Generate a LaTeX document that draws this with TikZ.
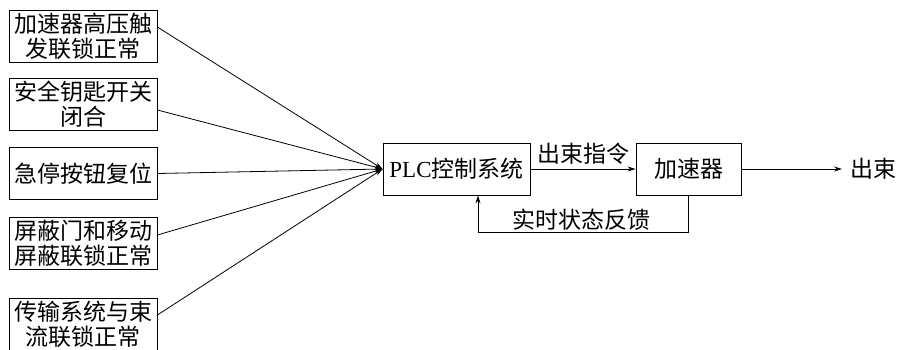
\documentclass[tikz,border=0pt]{standalone}
\usepackage{fontspec}
\setmainfont{Liberation Serif}
\newfontfamily\cjk{Noto Sans CJK SC}
\usepackage{tikz}
\usetikzlibrary{arrows.meta}

\tikzset{
  box/.style={draw, line width=0.8pt, align=center, inner sep=0pt,
    minimum height=52pt, font=\cjk\fontsize{23}{25}\selectfont},
  inbox/.style={box, minimum width=148pt},
  lbl/.style={font=\cjk\fontsize{23}{25}\selectfont, inner sep=0pt},
  link/.style={line width=0.8pt, -{Stealth[length=8pt,width=5pt]}}
}

\begin{document}
\begin{tikzpicture}
  \useasboundingbox (0,0) rectangle (899pt,-349pt);

  \draw (83pt,-36.5pt)   node (b1) [inbox] {加速器高压触\\发联锁正常};
  \draw (83pt,-104.5pt)  node (b2) [inbox] {安全钥匙开关\\闭合};
  \draw (83pt,-173.5pt)  node (b3) [inbox] {急停按钮复位};
  \draw (83pt,-243.5pt)  node (b4) [inbox] {屏蔽门和移动\\屏蔽联锁正常};
  \draw (83pt,-324.5pt)  node (b5) [inbox] {传输系统与束\\流联锁正常};

  \draw (456.5pt,-169pt) node (plc) [box, minimum width=147pt] {{\rmfamily PLC}控制系统};
  \draw (688.5pt,-169pt) node (acc) [box, minimum width=105pt] {加速器};
  \draw (850pt,-169pt)   node (out) [lbl, anchor=west] {出束};

  \draw [link] ([yshift=9.5pt]b1.east) -- (plc.west);
  \draw [link] ([yshift=-5.5pt]b2.east) -- (plc.west);
  \draw [link] (b3.east) -- (plc.west);
  \draw [link] ([yshift=8.5pt]b4.east) -- (plc.west);
  \draw [link] ([yshift=9.5pt]b5.east) -- (plc.west);

  \draw [link] (plc.east) -- (acc.west)
    node [lbl, midway, above=4pt] {出束指令};
  \draw [link] (acc.east) -- ([xshift=-8pt]out.west);

  % feedback loop
  \coordinate (fb) at (478pt,-232pt);
  \draw [link] (acc.south) |- (fb) -- (fb |- plc.south);
  \draw (581pt,-220pt) node (fbl) [lbl] {实时状态反馈};
\end{tikzpicture}
\end{document}
